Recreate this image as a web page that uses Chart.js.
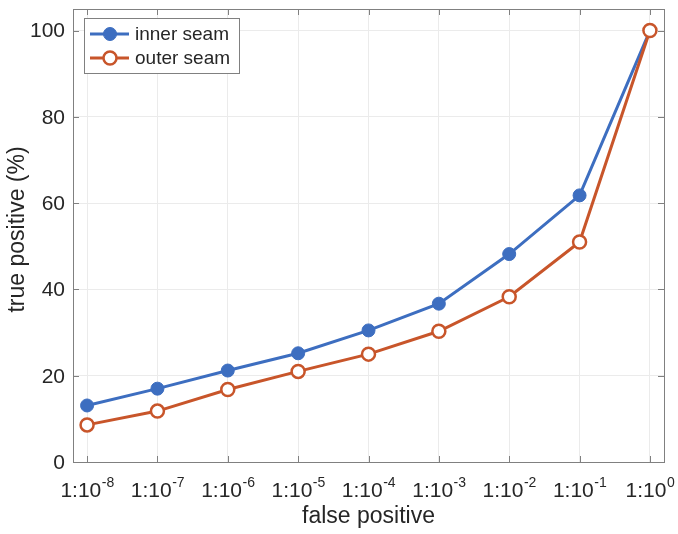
<!DOCTYPE html>
<html>
<head>
<meta charset="utf-8">
<script src="https://cdn.jsdelivr.net/npm/chart.js@4/dist/chart.umd.min.js"></script>
<style>
  html, body { margin: 0; padding: 0; background: #fff; }
  #wrap { width: 678px; height: 534px; }
</style>
</head>
<body>
<div id="wrap"><canvas id="roc"></canvas></div>
<script>
// false positive rate exponents: 1:10^exp
let EXPONENTS = [-8, -7, -6, -5, -4, -3, -2, -1, 0]
let INNER_SEAM = [13.1, 17.0, 21.2, 25.2, 30.5, 36.7, 48.2, 61.8, 100]
let OUTER_SEAM = [8.6, 11.8, 16.8, 21.0, 25.0, 30.3, 38.3, 51.0, 100]
let Y_TICKS = [0, 20, 40, 60, 80, 100]
let SERIES_NAMES = ["inner seam", "outer seam"]

const BLUE = '#3d6ec0'
const ORANGE = '#c8552a'
const AXIS_COLOR = '#808080'
const TEXT_COLOR = '#262626'
const FONT = '"Liberation Sans", Arial, Helvetica, sans-serif'

function toPoints(values) {
    return EXPONENTS.map((e, i) => ({x: e, y: values[i]}))
}

// draws the matlab style box, inward ticks, labels and legend
const matlabAxes = {
    id: 'matlabAxes',
    afterDraw(chart) {
        const ctx = chart.ctx
        const area = chart.chartArea
        const xs = chart.scales.x
        const ys = chart.scales.y
        const tickLen = 6

        ctx.save()
        ctx.strokeStyle = AXIS_COLOR
        ctx.lineWidth = 1
        ctx.beginPath()
        EXPONENTS.forEach((e) => {
            const px = Math.round(xs.getPixelForValue(e)) + 0.5
            ctx.moveTo(px, area.bottom); ctx.lineTo(px, area.bottom - tickLen)
            ctx.moveTo(px, area.top); ctx.lineTo(px, area.top + tickLen)
        })
        Y_TICKS.forEach((v) => {
            const py = Math.round(ys.getPixelForValue(v)) + 0.5
            ctx.moveTo(area.left, py); ctx.lineTo(area.left + tickLen, py)
            ctx.moveTo(area.right, py); ctx.lineTo(area.right - tickLen, py)
        })
        ctx.stroke()
        ctx.strokeRect(Math.round(area.left) + 0.5, Math.round(area.top) + 0.5,
            Math.round(area.right - area.left), Math.round(area.bottom - area.top))

        // x tick labels 1:10^exp
        ctx.fillStyle = TEXT_COLOR
        ctx.textBaseline = 'alphabetic'
        EXPONENTS.forEach((e) => {
            const base = '1:10'
            const sup = e < 0 ? '-' + Math.abs(e) : String(e)
            ctx.font = '21px ' + FONT
            const wb = ctx.measureText(base).width
            ctx.font = '14px ' + FONT
            const ws = ctx.measureText(sup).width
            const px = xs.getPixelForValue(e)
            const start = px - (wb + ws) / 2
            ctx.textAlign = 'left'
            ctx.font = '21px ' + FONT
            ctx.fillText(base, start, area.bottom + 35)
            ctx.font = '14px ' + FONT
            ctx.fillText(sup, start + wb + 0.5, area.bottom + 25)
        })

        // y tick labels
        ctx.font = '21px ' + FONT
        ctx.textAlign = 'right'
        ctx.textBaseline = 'middle'
        Y_TICKS.forEach((v) => {
            ctx.fillText(String(v), area.left - 8, ys.getPixelForValue(v) + 1)
        })

        // axis titles
        ctx.font = '23px ' + FONT
        ctx.textAlign = 'center'
        ctx.textBaseline = 'alphabetic'
        ctx.fillText('false positive', (area.left + area.right) / 2, area.bottom + 61)
        ctx.save()
        ctx.translate(24, (area.top + area.bottom) / 2 - 6)
        ctx.rotate(-Math.PI / 2)
        ctx.fillText('true positive (%)', 0, 0)
        ctx.restore()

        // legend box
        const lx = area.left + 11, ly = area.top + 9, lw = 155, lh = 55
        ctx.fillStyle = '#fff'
        ctx.fillRect(lx, ly, lw, lh)
        ctx.strokeStyle = AXIS_COLOR
        ctx.strokeRect(lx + 0.5, ly + 0.5, lw, lh)
        chart.data.datasets.forEach((ds, i) => {
            const cy = ly + 16 + i * 24
            ctx.strokeStyle = ds.borderColor
            ctx.lineWidth = 3
            ctx.beginPath()
            ctx.moveTo(lx + 6, cy); ctx.lineTo(lx + 45, cy)
            ctx.stroke()
            ctx.beginPath()
            ctx.arc(lx + 26, cy, 6.5, 0, Math.PI * 2)
            ctx.fillStyle = ds.pointBackgroundColor
            ctx.fill()
            ctx.lineWidth = ds.pointBorderWidth
            ctx.strokeStyle = ds.pointBorderColor
            ctx.stroke()
            ctx.fillStyle = TEXT_COLOR
            ctx.font = '19px ' + FONT
            ctx.textAlign = 'left'
            ctx.textBaseline = 'middle'
            ctx.fillText(ds.label, lx + 51, cy + 1)
        })
        ctx.restore()
    }
}

const chart = new Chart(document.getElementById('roc').getContext('2d'), {
    type: 'line',
    data: {
        datasets: [{
            label: SERIES_NAMES[0],
            data: toPoints(INNER_SEAM),
            borderColor: BLUE,
            backgroundColor: BLUE,
            pointBackgroundColor: BLUE,
            pointBorderColor: BLUE,
            borderWidth: 3,
            pointRadius: 6.5,
            pointBorderWidth: 1,
            tension: 0,
            order: 2
        }, {
            label: SERIES_NAMES[1],
            data: toPoints(OUTER_SEAM),
            borderColor: ORANGE,
            backgroundColor: '#fff',
            pointBackgroundColor: '#fff',
            pointBorderColor: ORANGE,
            borderWidth: 3,
            pointRadius: 6.5,
            pointBorderWidth: 2.5,
            tension: 0,
            order: 1
        }]
    },
    options: {
        responsive: true,
        maintainAspectRatio: false,
        animation: false,
        layout: { padding: { left: 73, right: 14, top: 4, bottom: 72 } },
        plugins: { legend: { display: false }, tooltip: { enabled: false } },
        scales: {
            x: {
                type: 'linear',
                min: -8.2,
                max: 0.2,
                afterBuildTicks: (scale) => { scale.ticks = EXPONENTS.map((e) => ({value: e})) },
                ticks: { display: false },
                grid: { color: '#ebebeb', drawTicks: false },
                border: { display: false }
            },
            y: {
                min: 0,
                max: 105,
                afterBuildTicks: (scale) => { scale.ticks = Y_TICKS.map((v) => ({value: v})) },
                ticks: { display: false },
                grid: { color: '#ebebeb', drawTicks: false },
                border: { display: false }
            }
        }
    },
    plugins: [matlabAxes]
})
</script>
</body>
</html>
